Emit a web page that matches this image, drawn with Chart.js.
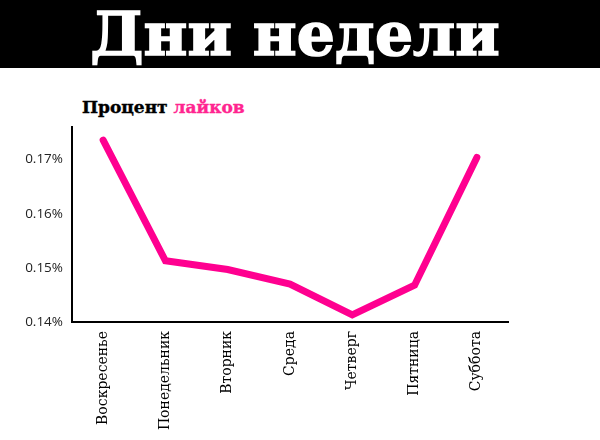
<!DOCTYPE html>
<html>
<head>
<meta charset="utf-8">
<script src="https://cdn.jsdelivr.net/npm/chart.js@4"></script>
<style>
  html, body { margin: 0; padding: 0; width: 600px; height: 440px; background: #fff; overflow: hidden; }
  #header { position: absolute; left: 0; top: 0; width: 590px; padding-right: 10px; height: 68px; background: #000;
    color: #fff; font-family: "DejaVu Serif", serif; font-weight: bold; font-size: 60px;
    text-align: center; line-height: 68px; -webkit-text-stroke: 1.5px #fff; }
  #sub { position: absolute; left: 82px; top: 99px; font-family: "DejaVu Serif", serif;
    font-weight: bold; font-size: 17px; line-height: 1; color: #000; -webkit-text-stroke: 0.4px #000; }
  #sub span { color: #ff2590; -webkit-text-stroke: 0.4px #ff2590; }
  #wrap { position: absolute; left: 0; top: 110px; width: 600px; height: 330px; }
</style>
</head>
<body>
<div id="header">Дни недели</div>
<div id="sub">Процент <span>лайков</span></div>
<div id="wrap"><canvas id="c"></canvas></div>
<script>
const categories = ["Воскресенье", "Понедельник", "Вторник", "Среда", "Четверг", "Пятница", "Суббота"];
const likePercent = [0.1736, 0.1513, 0.1497, 0.1470, 0.1413, 0.1468, 0.1704];
const yTicks = [0.14, 0.15, 0.16, 0.17];

new Chart(document.getElementById('c'), {
  type: 'line',
  data: {
    labels: categories,
    datasets: [{
      data: likePercent,
      borderColor: '#ff0090',
      borderWidth: 7,
      borderCapStyle: 'round',
      borderJoinStyle: 'miter',
      pointRadius: 0,
      tension: 0,
      fill: false
    }]
  },
  options: {
    responsive: true,
    maintainAspectRatio: false,
    animation: false,
    layout: { padding: { top: 12, right: 92, left: 0, bottom: 0 } },
    plugins: { legend: { display: false }, tooltip: { enabled: false } },
    scales: {
      x: {
        offset: true,
        grid: { display: false, drawTicks: false },
        border: { color: '#000', width: 2 },
        ticks: {
          minRotation: 90, maxRotation: 90, padding: 9,
          color: '#000',
          font: { family: 'DejaVu Serif', size: 14 }
        },
        afterFit: (s) => { s.height = 118; }
      },
      y: {
        min: 0.14,
        max: 0.176,
        afterBuildTicks: (s) => { s.ticks = yTicks.map(v => ({ value: v })); },
        grid: { display: false, drawTicks: false },
        border: { color: '#000', width: 2 },
        ticks: {
          padding: 9,
          color: '#222',
          font: { family: 'Open Sans', size: 13.5 },
          callback: (v) => v.toFixed(2) + '%'
        },
        afterFit: (s) => { s.width = 72; }
      }
    }
  }
});
</script>
</body>
</html>
